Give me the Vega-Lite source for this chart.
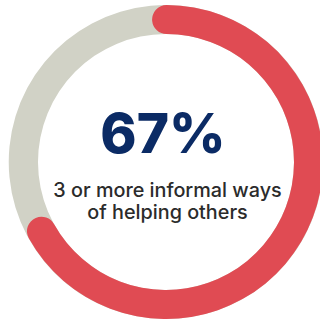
{
  "$schema": "https://vega.github.io/schema/vega-lite/v6.json",
  "width": 320,
  "height": 322,
  "autosize": {"type": "fit", "contains": "padding"},
  "padding": {"left": 12, "right": 0, "top": 2, "bottom": 0},
  "background": "white",
  "view": {"stroke": null},
  "data": {
    "values": [
      {"part": "track", "from": 0, "to": 1},
      {"part": "share", "from": 0, "to": 0.67, "label": "3 or more informal ways\nof helping others"}
    ]
  },
  "layer": [
    {
      "transform": [{"filter": "datum.part === 'track'"}],
      "mark": {"type": "arc", "outerRadius": 157, "innerRadius": 128, "color": "#D1D2C6"},
      "encoding": {
        "theta": {"field": "from", "type": "quantitative", "stack": null, "scale": {"domain": [0, 1], "range": [-0.0977, 6.476]}},
        "theta2": {"field": "to"}
      }
    },
    {
      "transform": [{"filter": "datum.part === 'share'"}],
      "mark": {"type": "arc", "outerRadius": 157, "innerRadius": 128, "cornerRadius": 14.5, "color": "#E04B53"},
      "encoding": {
        "theta": {"field": "from", "type": "quantitative", "stack": null, "scale": {"domain": [0, 1], "range": [-0.0977, 6.476]}},
        "theta2": {"field": "to"}
      }
    },
    {
      "transform": [{"filter": "datum.part === 'share'"}],
      "mark": {"type": "text", "font": "Inter", "fontWeight": 800, "fontSize": 55, "color": "#0B2B65", "align": "center", "baseline": "alphabetic", "dx": -3, "dy": -9},
      "encoding": {
        "text": {"field": "to", "type": "quantitative", "format": ".0%"}
      }
    },
    {
      "transform": [{"filter": "datum.part === 'share'"}],
      "mark": {"type": "text", "font": "Inter", "fontWeight": 500, "fontSize": 19.8, "color": "#2B2B2B", "align": "center", "baseline": "alphabetic", "lineBreak": "\n", "lineHeight": 21.5, "dx": 1.5, "dy": 35},
      "encoding": {
        "text": {"field": "label", "type": "nominal"}
      }
    }
  ]
}
